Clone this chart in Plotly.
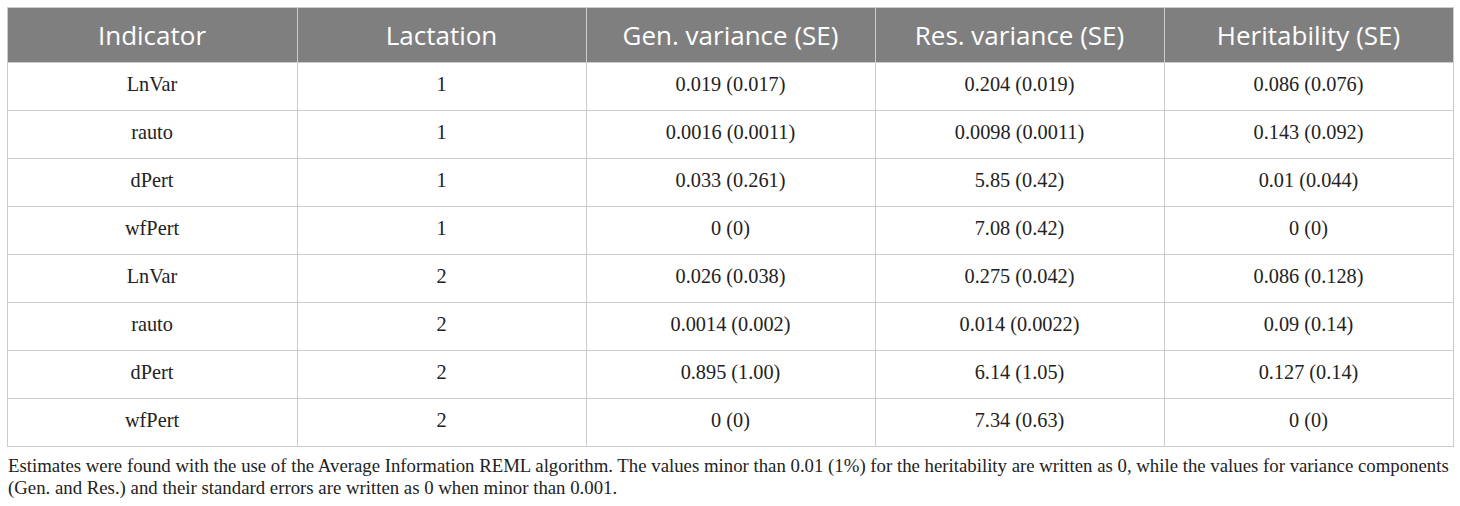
import plotly.graph_objects as go

W, H = 1460, 506

header = ['Indicator', 'Lactation', 'Gen. variance (SE)', 'Res. variance (SE)', 'Heritability (SE)']
indicator = ['LnVar', 'rauto', 'dPert', 'wfPert', 'LnVar', 'rauto', 'dPert', 'wfPert']
lactation = ['1', '1', '1', '1', '2', '2', '2', '2']
gen_var = ['0.019 (0.017)', '0.0016 (0.0011)', '0.033 (0.261)', '0 (0)',
           '0.026 (0.038)', '0.0014 (0.002)', '0.895 (1.00)', '0 (0)']
res_var = ['0.204 (0.019)', '0.0098 (0.0011)', '5.85 (0.42)', '7.08 (0.42)',
           '0.275 (0.042)', '0.014 (0.0022)', '6.14 (1.05)', '7.34 (0.63)']
herit = ['0.086 (0.076)', '0.143 (0.092)', '0.01 (0.044)', '0 (0)',
         '0.086 (0.128)', '0.09 (0.14)', '0.127 (0.14)', '0 (0)']
footnote = ['Estimates were found with the use of the Average Information REML algorithm. '
            'The values minor than 0.01 (1%) for the heritability are written as 0, while the values for variance components',
            '(Gen. and Res.) and their standard errors are written as 0 when minor than 0.001.']

grid = '#cccccc'
colw = [290, 289, 289, 289, 289]
columns = [indicator, lactation, gen_var, res_var, herit]

fig = go.Figure()

# grid + fills only (plotly puts table text at the top of a cell, no valign)
fig.add_trace(go.Table(
    domain=dict(x=[7 / W, 1453 / W], y=[0, 1 - 7 / H]),
    columnwidth=colw,
    header=dict(values=[''] * len(header), fill_color='#7f7f7f',
                line=dict(color=grid, width=1), height=55),
    cells=dict(values=[[''] * len(c) for c in columns], fill_color='white',
               line=dict(color=grid, width=1), height=48),
))

# text layer, nudged down so it sits in the middle of each cell
fig.add_trace(go.Table(
    domain=dict(x=[7 / W, 1453 / W], y=[0, 1 - 17 / H]),
    columnwidth=colw,
    header=dict(
        values=header,
        fill_color='rgba(0,0,0,0)',
        line=dict(color='rgba(0,0,0,0)', width=0),
        font=dict(family='Open Sans, sans-serif', size=26, color='white'),
        align='center',
        height=51,
    ),
    cells=dict(
        values=columns,
        fill_color='rgba(0,0,0,0)',
        line=dict(color='rgba(0,0,0,0)', width=0),
        font=dict(family='Liberation Serif, serif', size=20.3, color='#222222'),
        align='center',
        height=48,
    ),
))

for i, line in enumerate(footnote):
    fig.add_annotation(
        text=line, xref='paper', yref='paper',
        x=6 / W, y=1 - (466 + 22 * i) / H,
        xanchor='left', yanchor='middle', showarrow=False,
        font=dict(family='Liberation Serif, serif', size=18.8, color='#222222'),
    )

fig.update_layout(
    width=W, height=H,
    margin=dict(l=0, r=0, t=0, b=0),
    paper_bgcolor='white',
)

# the page body has a default 8px margin; drop it so the figure sits at 0,0
fig.write_html('out.html', config={'displayModeBar': False},
               post_script="document.body.style.margin='0';")
